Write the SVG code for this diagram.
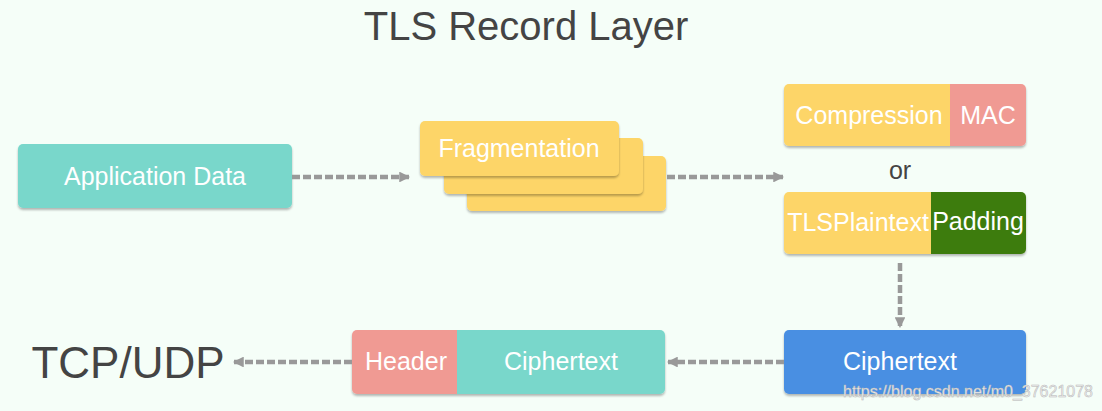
<svg xmlns="http://www.w3.org/2000/svg" width="1102" height="411" viewBox="0 0 1102 411">
  <defs>
    <filter id="sh" x="-5%" y="-10%" width="110%" height="130%">
      <feDropShadow dx="0" dy="2" stdDeviation="1.2" flood-color="#000" flood-opacity="0.28"/>
    </filter>
    <marker id="ah" viewBox="0 0 10 10" refX="9" refY="5" markerWidth="2.4" markerHeight="2.4" orient="auto" markerUnits="strokeWidth">
      <path d="M0,0 L10,5 L0,10 z" fill="#999"/>
    </marker>
    <clipPath id="c1"><rect x="784" y="84" width="242" height="62" rx="5"/></clipPath>
    <clipPath id="c2"><rect x="784" y="192" width="242" height="62" rx="5"/></clipPath>
    <clipPath id="c3"><rect x="352" y="330" width="313" height="64" rx="5"/></clipPath>
  </defs>
  <style>
    .lbl { font-family: "Liberation Sans", Arial, sans-serif; font-size: 25px; fill: #fff; text-anchor: middle; }
    .dark { font-family: "Liberation Sans", Arial, sans-serif; fill: #444; }
    .conn { fill: none; stroke: #999; stroke-width: 4.5; stroke-dasharray: 8 3; marker-end: url(#ah); }
    .teal { fill: #79D7CB; }
    .yellow { fill: #FDD567; }
    .pink { fill: #F09A93; }
    .green { fill: #3E7B0A; }
    .blue { fill: #4A8FE2; }
  </style>
  <rect width="1102" height="411" fill="#F5FEF8"/>

  <text id="title" class="dark" x="526" y="40" font-size="40" text-anchor="middle">TLS Record Layer</text>

  <g id="app-data">
    <rect class="teal" x="18" y="144" width="274" height="64" rx="5" filter="url(#sh)"/>
    <text class="lbl" x="155" y="185">Application Data</text>
  </g>

  <g id="fragmentation">
    <rect class="yellow" x="467" y="156" width="199" height="55" rx="5" filter="url(#sh)"/>
    <rect class="yellow" x="444" y="138" width="199" height="56" rx="5" filter="url(#sh)"/>
    <rect class="yellow" x="420" y="121" width="199" height="55" rx="5" filter="url(#sh)"/>
    <text class="lbl" x="519" y="157">Fragmentation</text>
  </g>

  <g id="compression-mac">
    <g filter="url(#sh)">
      <g clip-path="url(#c1)">
        <rect class="yellow" x="784" y="84" width="166" height="62"/>
        <rect class="pink" x="950" y="84" width="76" height="62"/>
      </g>
    </g>
    <text class="lbl" x="869" y="124">Compression</text>
    <text class="lbl" x="988" y="124">MAC</text>
  </g>

  <text id="or" class="dark" x="900" y="179" font-size="25" text-anchor="middle" fill="#333">or</text>

  <g id="plaintext-padding">
    <g filter="url(#sh)">
      <g clip-path="url(#c2)">
        <rect class="yellow" x="784" y="192" width="147" height="62"/>
        <rect class="green" x="931" y="192" width="95" height="62"/>
      </g>
    </g>
    <text class="lbl" x="858" y="231">TLSPlaintext</text>
    <text class="lbl" x="978" y="230">Padding</text>
  </g>

  <g id="ciphertext">
    <rect class="blue" x="784" y="330" width="242" height="64" rx="5" filter="url(#sh)"/>
    <text class="lbl" x="900" y="370">Ciphertext</text>
  </g>

  <g id="header-ciphertext">
    <g filter="url(#sh)">
      <g clip-path="url(#c3)">
        <rect class="pink" x="352" y="330" width="105" height="64"/>
        <rect class="teal" x="457" y="330" width="208" height="64"/>
      </g>
    </g>
    <text class="lbl" x="406" y="370">Header</text>
    <text class="lbl" x="561" y="370">Ciphertext</text>
  </g>

  <g id="tcp-udp">
    <text class="dark" x="128" y="378" font-size="44" text-anchor="middle">TCP/UDP</text>
  </g>

  <g id="connectors">
    <path class="conn" d="M292,177 H409"/>
    <path class="conn" d="M667,177 H783"/>
    <path class="conn" d="M900,263 V327"/>
    <path class="conn" d="M784,362 H668"/>
    <path class="conn" d="M352,362 H234"/>
  </g>

  <text id="watermark" x="968" y="397" font-family="Liberation Sans, Arial, sans-serif" font-size="16" text-anchor="middle" fill="#f2f2f2" stroke="#b5b5b5" stroke-width="0.5">https://blog.csdn.net/m0_37621078</text>
</svg>
